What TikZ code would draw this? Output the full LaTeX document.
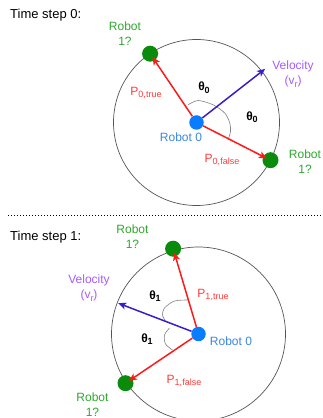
\documentclass[tikz,border=0pt]{standalone}
\usepackage{fontspec}
\setmainfont{Liberation Sans}
\usetikzlibrary{arrows.meta}
\definecolor{cDot}{HTML}{0B8B0B}
\definecolor{cDotTxt}{HTML}{2EA82E}
\definecolor{cSelf}{HTML}{0A7CFF}
\definecolor{cSelfTxt}{HTML}{3A86E0}
\definecolor{cPos}{HTML}{FF1A1A}
\definecolor{cPosTxt}{HTML}{FF3B3B}
\definecolor{cVel}{HTML}{3A1DC8}
\definecolor{cVelTxt}{HTML}{A45BFF}
\definecolor{cRing}{HTML}{555555}
\definecolor{cArc}{HTML}{808080}
\newcommand{\lsub}[1]{\raisebox{-0.4ex}{\fontsize{9}{9}\selectfont #1}}
\tikzset{
  bot/.style   = {circle, fill=#1, inner sep=0pt, minimum size=16pt},
  bot/.default = cDot,
  self/.style  = {bot=cSelf, minimum size=14.5pt},
  ring/.style  = {circle, draw=cRing, line width=0.7pt, inner sep=0pt, minimum size=#1},
  lab/.style   = {font=\fontsize{12}{15}\selectfont, align=center, text=#1, inner sep=0pt},
  lab/.default = black,
  title/.style = {font=\fontsize{13}{15}\selectfont, anchor=west, inner sep=0pt},
  pa/.style    = {-{Stealth[length=8pt, width=7pt, inset=2pt]}, draw=cPos, line width=1.5pt,
                  shorten >=4pt},
  va/.style    = {-{Stealth[length=8pt, width=7pt, inset=2pt]}, draw=cVel, line width=1.5pt},
  ang/.style   = {draw=cArc, line width=0.6pt},
  sep/.style   = {line width=0.8pt, dash pattern=on 0.8pt off 2.2pt},
}

\begin{document}
\begin{tikzpicture}[x=1pt, y=1pt]
  \useasboundingbox (0,0) rectangle (322,418);

  % time step 0
  \node[title] (ts0) at (10,403) {Time step 0:};
  \node[ring=166pt] (ring0) at (196.5,295.5) {};
  \node[bot] (gT0) at (150.1,364.3) {};
  \node[bot] (gF0) at (270.5,257.8) {};
  \node[self] (bot0) at (196.5,295.5) {};
  \coordinate (v0) at (265.1,349.1);

  \draw[ang] plot[smooth] coordinates {(188.1,313.2) (198.1,317.5) (213.1,313.2) (224.8,304.9)
    (229.8,294.9) (230.5,286.5) (228.1,278.2)};
  \draw[pa] (bot0) -- (gT0.center);
  \draw[pa] (bot0) -- (gF0.center);
  \draw[va] (bot0) -- (v0);

  \node[lab=cDotTxt] (lRT0) at (125,384) {Robot\\1?};
  \node[lab=cDotTxt] (lRF0) at (305,256) {Robot\\1?};
  \node[lab=cVelTxt] (lV0) at (293,344) {Velocity\\(v\lsub{r})};
  \node[lab=cPosTxt] (lPT0) at (146,325) {P\lsub{0,true}};
  \node[lab=cPosTxt] (lPF0) at (222,258) {P\lsub{0,false}};
  \node[lab=cSelfTxt] (lR0) at (181,281) {Robot 0};
  \node[lab, font=\fontsize{12}{15}\selectfont\bfseries] (lth0a) at (204,330.5) {θ\lsub{0}};
  \node[lab, font=\fontsize{12}{15}\selectfont\bfseries] (lth0b) at (252,301) {θ\lsub{0}};

  \coordinate (sepL) at (8,203);
  \coordinate (sepR) at (322,203);
  \draw[sep] (sepL) -- (sepR);

  % time step 1
  \node[title] (ts1) at (10,180.5) {Time step 1:};
  \node[ring=174pt] (ring1) at (198.5,84) {};
  \node[bot] (gT1) at (173.1,169.3) {};
  \node[bot] (gF1) at (125.5,34.8) {};
  \node[self] (bot1) at (198.5,84) {};
  \coordinate (v1) at (118.2,114.8);

  \draw[ang] plot[smooth] coordinates {(188.5,118) (174.5,117) (164.5,110) (162.5,103) (165.5,97)};
  \draw[ang] plot[smooth] coordinates {(169.5,90) (164.5,83) (165.5,74) (172.5,68)};
  \draw[pa] (bot1) -- (gT1.center);
  \draw[pa] (bot1) -- (gF1.center);
  \draw[va] (bot1) -- (v1);

  \node[lab=cDotTxt] (lRT1) at (132.5,181) {Robot\\1?};
  \node[lab=cDotTxt] (lRF1) at (92.5,13) {Robot\\1?};
  \node[lab=cVelTxt] (lV1) at (89,130) {Velocity\\(v\lsub{r})};
  \node[lab=cPosTxt] (lPT1) at (213,123) {P\lsub{1,true}};
  \node[lab=cPosTxt] (lPF1) at (184,37) {P\lsub{1,false}};
  \node[lab=cSelfTxt] (lR1) at (231,77) {Robot 0};
  \node[lab, font=\fontsize{12}{15}\selectfont\bfseries] (lth1a) at (155,122) {θ\lsub{1}};
  \node[lab, font=\fontsize{12}{15}\selectfont\bfseries] (lth1b) at (147,79) {θ\lsub{1}};
\end{tikzpicture}
\end{document}
